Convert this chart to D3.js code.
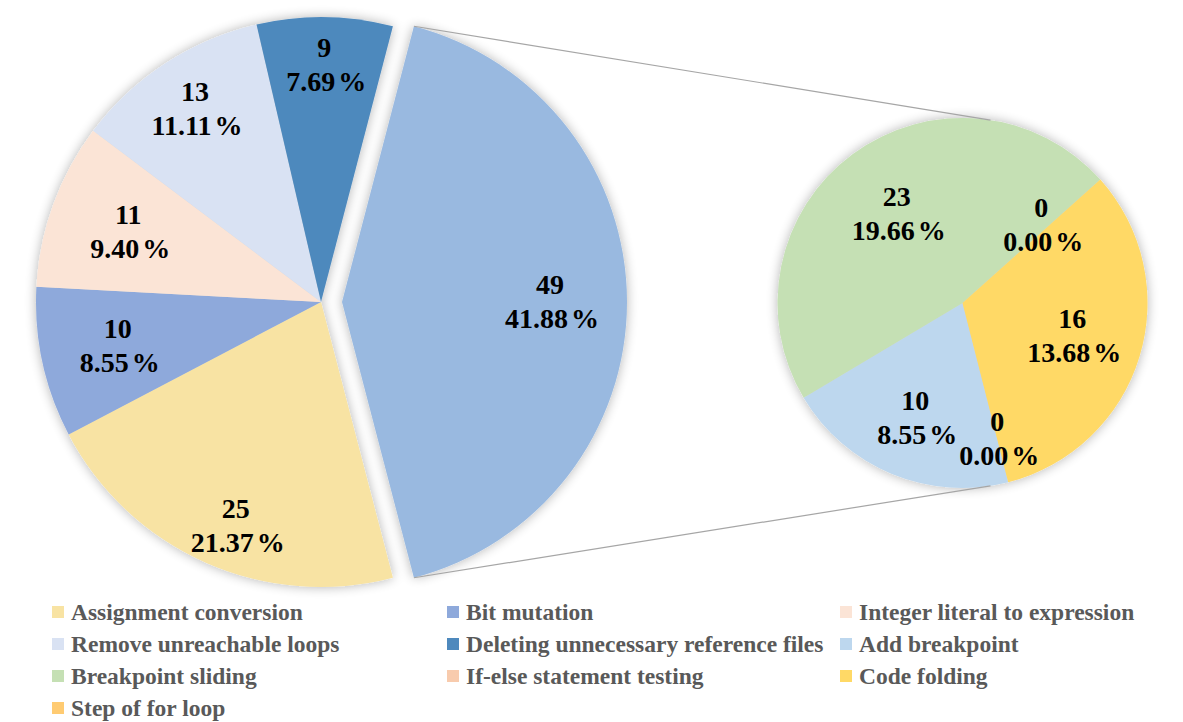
<!DOCTYPE html>
<html><head><meta charset="utf-8">
<script src="https://cdn.jsdelivr.net/npm/d3@7"></script>
<style>body{margin:0;background:#fff}svg{display:block}</style>
</head><body><svg id="c" width="1183" height="722"></svg>
<script>
// ---- data ----
const mainCategories = ["Assignment conversion","Bit mutation","Integer literal to expression","Remove unreachable loops","Deleting unnecessary reference files"];
const mainValues = [25,10,11,13,9];
const subCategories = ["Add breakpoint","Breakpoint sliding","If-else statement testing","Code folding","Step of for loop"];
const subValues = [10,23,0,16,0];
const otherLabel = "Other";
const mainColors = ["#F8E3A3","#8EA9DB","#FBE4D6","#D9E2F3","#4E89BD"];
const otherColor = "#99B9E0";
const subColors = ["#BDD7EE","#C5E0B4","#F8CBAD","#FFD966","#FFCB72"];

// ---- layout ----
const FONT = "Liberation Serif, Tinos, Times New Roman, DejaVu Serif, serif";
const mainLabelR = [0.84,0.73,0.72,0.81,0.83,0.73];
const mainLabelA = [-3,0,0,0,0,0];
const subLabelR = [0.67,0.6,0.6,0.62,0.76];
const subLabelA = [0,0,-3,0,0];
const W = 1183, H = 722;
const svg = d3.select("#c");
svg.append("rect").attr("width",W).attr("height",H).attr("fill","#fff");
const defs = svg.append("defs");
const f = defs.append("filter").attr("id","sh").attr("x","-20%").attr("y","-20%").attr("width","140%").attr("height","140%");
f.append("feGaussianBlur").attr("in","SourceAlpha").attr("stdDeviation",6).attr("result","b");
f.append("feComponentTransfer").attr("in","b").attr("result","t")
  .append("feFuncA").attr("type","linear").attr("slope",0.3);
const fm = f.append("feMerge"); fm.append("feMergeNode").attr("in","t"); fm.append("feMergeNode").attr("in","SourceGraphic");

const total = d3.sum(mainValues) + d3.sum(subValues);
const otherValue = d3.sum(subValues);
const fmtPct = v => (v/total*100).toFixed(2);

const cx1 = 321, cy1 = 302, r1 = 285, explode = 21;
const cx2 = 962.5, cy2 = 303, r2 = 185;
const deg = Math.PI/180;

const mainData = mainCategories.map((c,i)=>({name:c, value:mainValues[i], color:mainColors[i]}))
  .concat([{name:otherLabel, value:otherValue, color:otherColor, other:true}]);
const otherAngle = otherValue/total*2*Math.PI;
const s1 = Math.PI/2 + otherAngle/2;
const pie1 = d3.pie().sort(null).value(d=>d.value).startAngle(s1).endAngle(s1+2*Math.PI);
const arcs1 = pie1(mainData);
const arc1 = d3.arc().innerRadius(0).outerRadius(r1);

const subData = subCategories.map((c,i)=>({name:c, value:subValues[i], color:subColors[i]}));
const s2 = 165.7*deg;
const pie2 = d3.pie().sort(null).value(d=>d.value).startAngle(s2).endAngle(s2+2*Math.PI);
const arcs2 = pie2(subData);
const arc2 = d3.arc().innerRadius(0).outerRadius(r2);

const oArc = arcs1.find(a=>a.data.other);
const oMid = (oArc.startAngle+oArc.endAngle)/2;
const ox = cx1 + explode*Math.sin(oMid);
const oy = cy1 - explode*Math.cos(oMid);
const pt = (x,y,r,a)=>[x + r*Math.sin(a), y - r*Math.cos(a)];
const conn = [
  [pt(ox,oy,r1,oArc.startAngle), pt(cx2,cy2,r2,8.7*deg)],
  [pt(ox,oy,r1,oArc.endAngle), pt(cx2,cy2,r2,171.3*deg)]
];

const g1 = svg.append("g").attr("filter","url(#sh)");
g1.selectAll("path").data(arcs1).join("path")
  .attr("d", arc1)
  .attr("fill", d=>d.data.color)
  .attr("transform", d=> d.data.other ? `translate(${ox},${oy})` : `translate(${cx1},${cy1})`);

const g2 = svg.append("g").attr("filter","url(#sh)").attr("transform",`translate(${cx2},${cy2})`);
g2.selectAll("path").data(arcs2.filter(d=>d.value>0)).join("path")
  .attr("d", arc2).attr("fill", d=>d.data.color);

svg.append("g").selectAll("line").data(conn).join("line")
  .attr("x1",d=>d[0][0]).attr("y1",d=>d[0][1]).attr("x2",d=>d[1][0]).attr("y2",d=>d[1][1])
  .attr("stroke","#A6A6A6").attr("stroke-width",1.2);

function drawLabels(arcs, radii, angs, R, centerOf){
  const g = svg.append("g");
  arcs.forEach((a,i)=>{
    const rr = R*radii[i];
    const mid = (a.startAngle+a.endAngle)/2 + angs[i]*deg;
    const [tx,ty] = centerOf(a);
    const X = tx + rr*Math.sin(mid), Y = ty - rr*Math.cos(mid);
    const t = g.append("text").attr("text-anchor","middle")
      .attr("font-family",FONT).attr("font-weight","bold").attr("font-size",28).attr("fill","#000");
    t.append("tspan").attr("x", X).attr("y", Y-8).text(a.data.value);
    t.append("tspan").attr("x", X+2).attr("y", Y+26).text(fmtPct(a.data.value));
    t.append("tspan").attr("dx", 3).text("%");
  });
}
drawLabels(arcs1, mainLabelR, mainLabelA, r1, a => a.data.other ? [ox,oy] : [cx1,cy1]);
drawLabels(arcs2, subLabelR, subLabelA, r2, a => [cx2,cy2]);

// legend
const legendItems = mainData.filter(d=>!d.other).concat(subData);
const colX = [52, 447, 840], rowY = [612, 644, 676, 708];
const lg = svg.append("g");
legendItems.forEach((d,i)=>{
  const cx = colX[i%3], cy = rowY[Math.floor(i/3)];
  lg.append("rect").attr("x",cx).attr("y",cy-6).attr("width",12).attr("height",12).attr("fill",d.color);
  lg.append("text").attr("x",cx+19).attr("y",cy+8)
    .attr("font-family",FONT)
    .attr("font-weight","bold").attr("font-size",23.5).attr("fill","#595959").text(d.name);
});
</script></body></html>
